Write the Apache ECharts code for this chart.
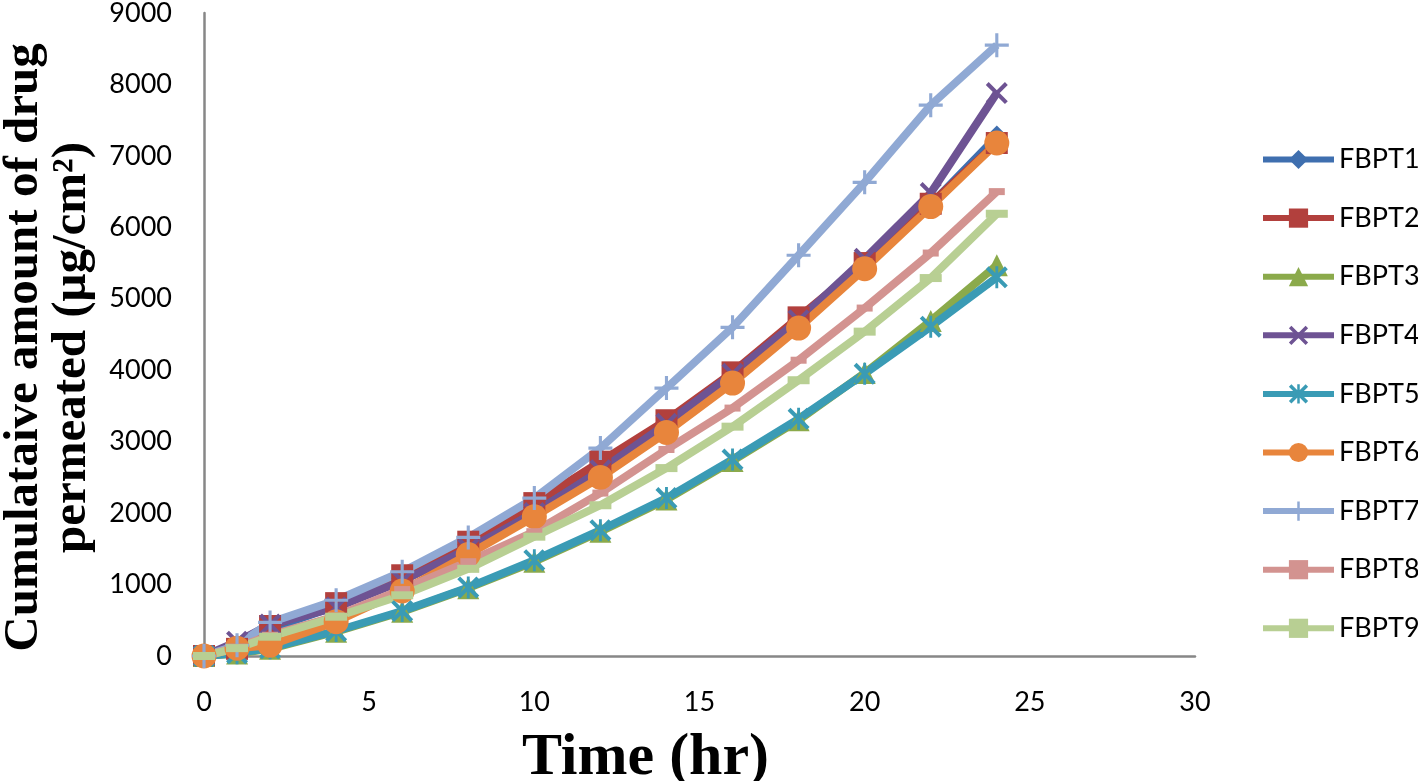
<!DOCTYPE html>
<html>
<head>
<meta charset="utf-8">
<script src="https://cdn.jsdelivr.net/npm/echarts@6/dist/echarts.min.js"></script>
<style>
  html, body { margin: 0; padding: 0; background: #fff; }
  #chart { width: 1418px; height: 781px; }
</style>
</head>
<body>
<div id="chart"></div>
<script>
// time points (hr)
var hours = [0, 1, 2, 4, 6, 8, 10, 12, 14, 16, 18, 20, 22, 24];

// cumulative amount permeated
var FBPT1 = [0, 90, 380, 700, 1080, 1560, 2080, 2660, 3240, 3900, 4680, 5470, 6320, 7270];
var FBPT2 = [0, 100, 420, 740, 1130, 1600, 2140, 2720, 3300, 3970, 4740, 5500, 6330, 7180];
var FBPT3 = [0, 35, 100, 340, 620, 950, 1320, 1740, 2190, 2730, 3300, 3960, 4690, 5470];
var FBPT4 = [0, 200, 440, 680, 1050, 1500, 2000, 2600, 3250, 3950, 4700, 5560, 6480, 7880];
var FBPT5 = [0, 40, 110, 350, 630, 960, 1340, 1760, 2210, 2750, 3320, 3950, 4610, 5300];
var FBPT6 = [0, 110, 150, 480, 910, 1420, 1950, 2500, 3130, 3820, 4590, 5420, 6290, 7180];
var FBPT7 = [0, 150, 470, 780, 1180, 1660, 2210, 2910, 3750, 4600, 5610, 6630, 7710, 8550];
var FBPT8 = [0, 120, 290, 560, 930, 1320, 1740, 2280, 2890, 3470, 4140, 4870, 5640, 6500];
var FBPT9 = [0, 110, 270, 550, 850, 1220, 1670, 2110, 2630, 3210, 3860, 4540, 5290, 6190];

var names = ['FBPT1','FBPT2','FBPT3','FBPT4','FBPT5','FBPT6','FBPT7','FBPT8','FBPT9'];
var values = [FBPT1, FBPT2, FBPT3, FBPT4, FBPT5, FBPT6, FBPT7, FBPT8, FBPT9];

var colors = ['#3F6FAF','#B2403D','#8BAA4B','#6E5393','#3A9BB5','#E8853C','#90A9D4','#D39390','#B8CF93'];

var X_PATH = 'path://M0,1.3L1.3,0L10,8.7L8.7,10Z M8.7,0L10,1.3L1.3,10L0,8.7Z';
var STAR_PATH = 'path://M0,1.3L1.3,0L10,8.7L8.7,10Z M8.7,0L10,1.3L1.3,10L0,8.7Z M4.35,0H5.65V10H4.35Z';
var PLUS_PATH = 'path://M4.35,0H5.65V10H4.35Z M0,4.35H10V5.65H0Z';

var symbols = ['diamond', 'rect', 'triangle', X_PATH, STAR_PATH, 'circle', PLUS_PATH, 'rect', 'rect'];
var sizes = [22, 22, 22, 22, 22, 25, 24, [16, 7], [22, 8]];

var seriesList = [];
for (var i = 0; i < names.length; i++) {
  var pts = [];
  for (var j = 0; j < hours.length; j++) {
    pts.push([hours[j], values[i][j]]);
  }
  seriesList.push({
    name: names[i],
    type: 'line',
    data: pts,
    symbol: symbols[i],
    symbolSize: sizes[i],
    symbolKeepAspect: true,
    showAllSymbol: true,
    lineStyle: { width: 8, color: colors[i] },
    itemStyle: { color: colors[i] }
  });
}

var chart = echarts.init(document.getElementById('chart'));
var option = {
  backgroundColor: '#ffffff',
  animation: false,
  color: colors,
  grid: { left: 204, top: 13, right: 223, bottom: 125, containLabel: false, outerBoundsMode: 'none' },
  legend: {
    orient: 'vertical',
    left: 1255,
    top: 141,
    itemWidth: 71,
    itemHeight: 24,
    itemGap: 31.6,
    data: names,
    lineStyle: { width: 6 },
    textStyle: { fontFamily: 'Lato', fontSize: 27, color: '#000' }
  },
  xAxis: {
    type: 'value',
    min: 0,
    max: 30,
    interval: 5,
    name: 'Time (hr)',
    nameLocation: 'middle',
    nameGap: 72,
    nameTextStyle: {
      fontFamily: 'Liberation Serif', fontWeight: 'bold', fontSize: 60, color: '#000',
      padding: [0, 108, 0, 0]
    },
    axisLine: { lineStyle: { color: '#878787', width: 2.5 } },
    axisTick: { show: false },
    splitLine: { show: false },
    axisLabel: { margin: 33, fontFamily: 'Lato', fontSize: 27, color: '#000' }
  },
  yAxis: {
    type: 'value',
    min: 0,
    max: 9000,
    interval: 1000,
    name: 'Cumulataive amount of drug\npermeated (μg/cm²)',
    nameLocation: 'middle',
    nameRotate: 90,
    nameGap: 108,
    nameTextStyle: {
      fontFamily: 'Liberation Serif', fontWeight: 'bold', fontSize: 49, lineHeight: 48,
      color: '#000', padding: [0, 26, 0, 0]
    },
    axisLine: { show: true, lineStyle: { color: '#878787', width: 2.5 } },
    axisTick: { show: false },
    splitLine: { show: false },
    axisLabel: {
      margin: 32, fontFamily: 'Lato', fontSize: 27, color: '#000',
      formatter: function (v) { return String(v); }
    }
  },
  series: seriesList
};
chart.setOption(option);
</script>
</body>
</html>
